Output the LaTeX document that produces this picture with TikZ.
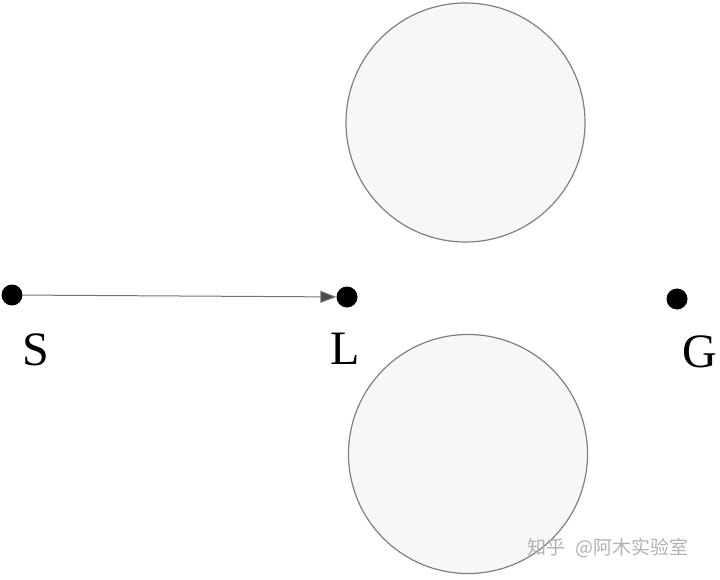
\documentclass[tikz,border=0pt]{standalone}
\usepackage{fontspec}
\setmainfont{Liberation Serif}
\newfontfamily\cjk{Noto Sans CJK SC}
\usetikzlibrary{arrows.meta}
\begin{document}
\begin{tikzpicture}[x=1pt,y=-1pt,
  ball/.style={circle,draw=black!50,line width=1.2pt,fill=black!3,minimum size=239pt,inner sep=0pt},
  pt/.style={circle,fill=black,minimum size=21pt,inner sep=0pt},
  lbl/.style={font=\fontsize{48}{48}\selectfont,inner sep=0pt},
  wmark/.style={font=\cjk\fontsize{19}{19}\selectfont,text=black!30,inner sep=0pt}]
\useasboundingbox (0,0) rectangle (720,580);
\node[ball] (top) at (465.5,122.5) {};
\node[ball] (bot) at (468,454) {};
\node[pt] (S) at (12,295) {};
\node[pt] (L) at (347,297) {};
\node[pt] (G) at (677,299) {};
\draw[black!55,line width=1pt,-{Triangle[length=16pt,width=12pt,fill=black!70]}] (S) -- (L);
\node[lbl] (Sl) at (36,350) {S};
\node[lbl] (Ll) at (345,349) {L};
\node[lbl] (Gl) at (700,352) {G};
\node[wmark,anchor=west] (wm) at (527,548) {知乎 \,\,@阿木实验室};
\end{tikzpicture}
\end{document}
